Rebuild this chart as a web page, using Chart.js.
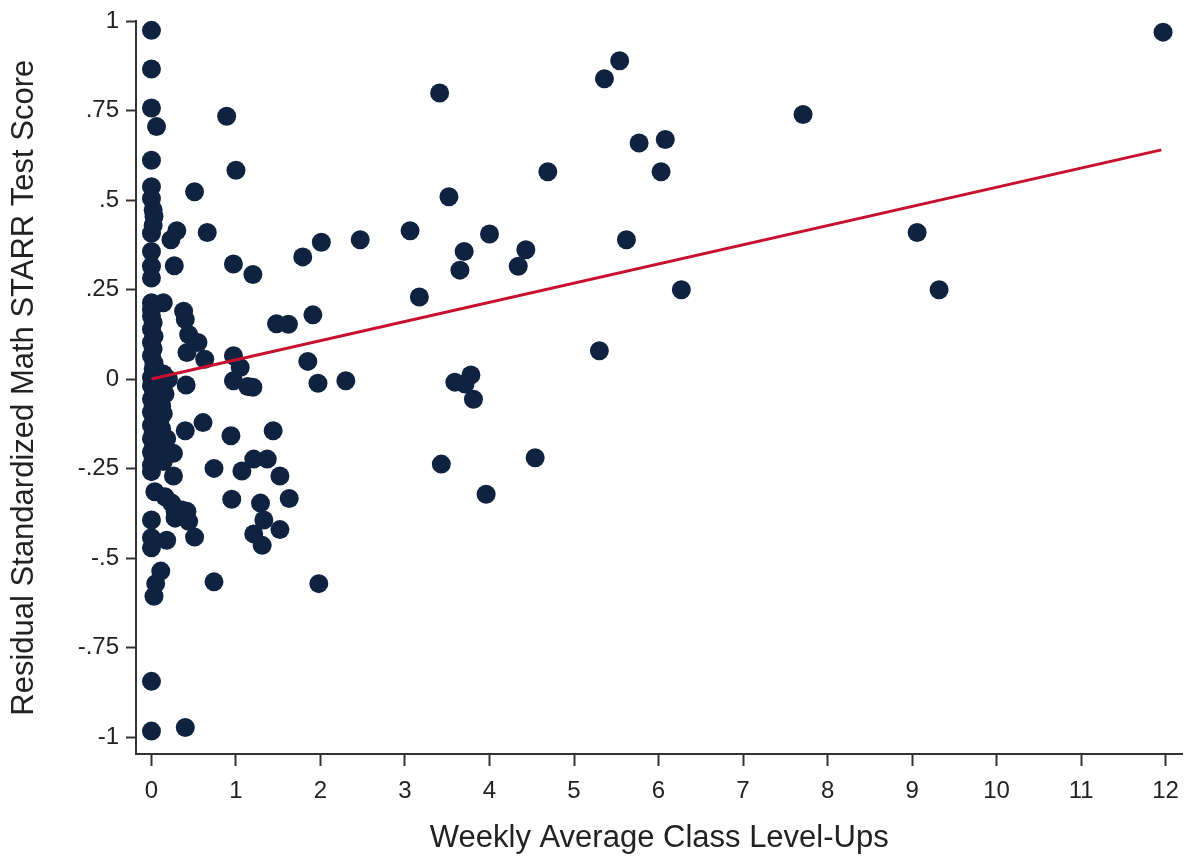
<!DOCTYPE html>
<html lang="en">
<head>
    <meta charset="UTF-8">
    <title>Level-Ups vs Residual Math Score</title>
    <script src="https://cdn.jsdelivr.net/npm/chart.js"></script>
    <style>
        html, body {
            margin: 0;
            padding: 0;
            background: #fff;
        }
        .chart-container {
            width: 1192px;
            height: 859px;
        }
    </style>
</head>
<body>
    <div class="chart-container">
        <canvas id="scatterChart"></canvas>
    </div>

    <script>
        // weekly average class level-ups (x) and residual standardized math score (y)
        const levelUps = [
            11.97, 7.71, 9.06, 9.32, 5.54, 5.36, 5.77, 6.08, 6.03, 5.62, 6.27, 5.30, 4.69, 3.41, 3.52, 3.06, 3.17, 3.70, 3.65, 4.00, 4.43, 4.34,
            3.59, 3.71, 3.78, 3.81, 3.43, 4.54, 3.96,
            2.01, 2.47, 1.79, 1.91, 1.85, 1.97, 2.30, 1.48, 1.62,
            1.20, 1.44, 1.21, 1.37, 1.52, 1.29, 1.63, 1.33, 1.52, 1.21, 1.31, 1.98, 1.07, 0.95, 0.94, 0.74, 0.61, 0.40, 0.26, 0.74, 0.51, 0.18,
            0.97, 1.14, 0.41, 1.05, 0.97, 0.63, 0.42, 0.55, 0.44, 0.40, 0.38, 0.14,
            0.89, 1.00, 0.51, 0.23, 0.30, 0.66, 0.27, 0.97, 1.20,
            0, 0, 0, 0.06, 0, 0, 0, 0.02, 0.03, 0.02, 0, 0, 0, 0,
            0, 0, 0, 0.02, 0, 0.03, 0, 0.02, 0, 0.03, 0.02, 0.14, 0.20, 0, 0.08,
            0, 0.03, 0, 0.02, 0, 0.03, 0, 0.02, 0, 0.03, 0, 0.02, 0, 0,
            0.14, 0.16, 0.12, 0.14, 0.10, 0.12, 0.18, 0.12, 0.26, 0.14, 0.08, 0.07,
            0.04, 0.16, 0.24, 0.28, 0.36, 0.42, 0.28, 0.44, 0, 0, 0, 0.11, 0.05, 0.03, 0, 0, 0.40
        ];
        const residualScore = [
            0.97, 0.74, 0.41, 0.25, 0.89, 0.84, 0.66, 0.67, 0.58, 0.39, 0.25, 0.08, 0.58, 0.80, 0.51, 0.415, 0.23, 0.357, 0.305, 0.406, 0.362, 0.316,
            -0.008, -0.013, 0.012, -0.056, -0.237, -0.219, -0.321,
            0.383, 0.39, 0.342, 0.18, 0.05, -0.011, -0.004, 0.155, 0.154,
            -0.022, -0.144, -0.223, -0.223, -0.27, -0.346, -0.333, -0.393, -0.42, -0.432, -0.464, -0.571, -0.256, -0.335, -0.158, -0.249, -0.121, -0.144, -0.27, -0.566, -0.441, -0.45,
            -0.004, -0.02, -0.016, 0.033, 0.066, 0.056, 0.075, 0.103, 0.125, 0.167, 0.19, 0.214,
            0.735, 0.584, 0.524, 0.39, 0.415, 0.41, 0.317, 0.322, 0.293,
            0.975, 0.867, 0.758, 0.706, 0.612, 0.538, 0.505, 0.473, 0.455, 0.43, 0.408, 0.357, 0.316, 0.283,
            0.214, 0.195, 0.177, 0.158, 0.14, 0.12, 0.103, 0.085, 0.066, 0.045, 0.029, 0.015, 0.0, 0.005, 0.02,
            -0.018, -0.035, -0.055, -0.075, -0.092, -0.11, -0.129, -0.15, -0.166, -0.185, -0.203, -0.222, -0.24, -0.258,
            -0.036, -0.041, -0.075, -0.096, -0.115, -0.138, -0.166, -0.198, -0.207, -0.23, -0.17, -0.21,
            -0.314, -0.328, -0.346, -0.369, -0.365, -0.369, -0.388, -0.397, -0.393, -0.443, -0.471, -0.536, -0.571, -0.606, -0.844, -0.983, -0.973
        ];

        // fitted line end points
        const fitX = [0, 11.95];
        const fitY = [0.001, 0.641];

        // axis ticks
        const xTicks = [0, 1, 2, 3, 4, 5, 6, 7, 8, 9, 10, 11, 12];
        const yTicks = [-1, -0.75, -0.5, -0.25, 0, 0.25, 0.5, 0.75, 1];

        const font = "'Liberation Sans', Arial, sans-serif";
        const axisColor = '#333';

        function fmtY(v) {
            if (v === 0) return '0';
            if (v === 1 || v === -1) return String(v);
            return String(v).replace('0.', '.');
        }

        const ctx = document.getElementById('scatterChart').getContext('2d');
        new Chart(ctx, {
            type: 'scatter',
            data: {
                datasets: [
                    {
                        type: 'line',
                        label: 'Fitted values',
                        data: fitX.map((x, i) => ({ x: x, y: fitY[i] })),
                        borderColor: '#c8102e',
                        borderWidth: 3,
                        pointRadius: 0,
                        fill: false,
                        order: 0
                    },
                    {
                        label: 'Residual score',
                        data: levelUps.map((x, i) => ({ x: x, y: residualScore[i] })),
                        backgroundColor: '#0f2341',
                        borderColor: '#0f2341',
                        borderWidth: 0,
                        pointRadius: 9.5,
                        clip: false,
                        order: 1
                    }
                ]
            },
            options: {
                responsive: true,
                maintainAspectRatio: false,
                animation: false,
                layout: { padding: { top: 0, right: 8, bottom: 0, left: 0 } },
                plugins: {
                    legend: { display: false },
                    tooltip: { enabled: false }
                },
                scales: {
                    x: {
                        type: 'linear',
                        min: -0.183,
                        max: 12.2,
                        afterBuildTicks: s => { s.ticks = xTicks.map(v => ({ value: v })); },
                        afterFit: s => { s.height = 105; },
                        border: { display: true, color: axisColor, width: 2 },
                        grid: { drawOnChartArea: false, drawTicks: true, tickLength: 12, color: axisColor, tickWidth: 2 },
                        ticks: { color: '#222', padding: 11, font: { family: font, size: 24 } },
                        title: {
                            display: true,
                            text: 'Weekly Average Class Level-Ups',
                            color: '#222',
                            padding: { top: 8, bottom: 2 },
                            font: { family: font, size: 31 }
                        }
                    },
                    y: {
                        type: 'linear',
                        min: -1.047,
                        max: 1.0,
                        afterBuildTicks: s => { s.ticks = yTicks.map(v => ({ value: v })); },
                        afterFit: s => { s.width = 136; },
                        border: { display: true, color: axisColor, width: 2 },
                        grid: { drawOnChartArea: false, drawTicks: true, tickLength: 10, color: axisColor, tickWidth: 2 },
                        ticks: { color: '#222', padding: 7, callback: v => fmtY(v), font: { family: font, size: 24 } },
                        title: {
                            display: true,
                            text: 'Residual Standardized Math STARR Test Score',
                            color: '#222',
                            padding: { top: 6, bottom: 10 },
                            font: { family: font, size: 31 }
                        }
                    }
                }
            }
        });
    </script>
</body>
</html>
